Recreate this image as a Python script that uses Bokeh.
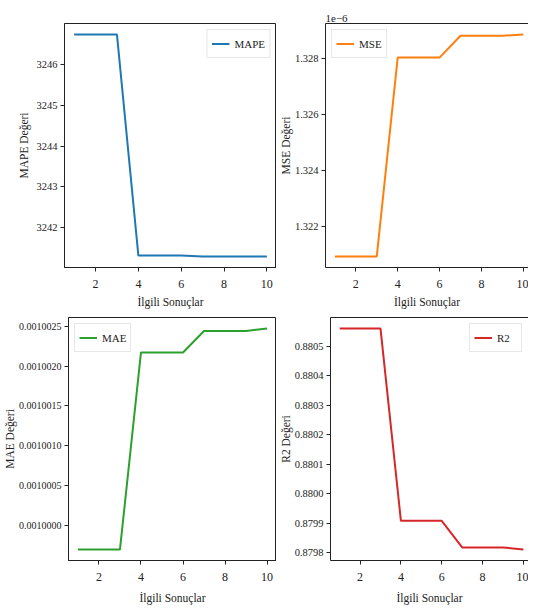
from bokeh.plotting import figure
from bokeh.models import (Range1d, FixedTicker, PrintfTickFormatter, CustomJSTickFormatter,
                          Legend, LegendItem, LinearAxis, Title)
from bokeh.layouts import row, column
from bokeh.embed import file_html
from bokeh.resources import INLINE

# ---- data ----
x_vals = [1, 2, 3, 4, 5, 6, 7, 8, 9, 10]
mape = [3246.73, 3246.73, 3246.73, 3241.32, 3241.32, 3241.32, 3241.30, 3241.30, 3241.30, 3241.30]
mse = [1.32093e-6, 1.32093e-6, 1.32093e-6, 1.32802e-6, 1.32802e-6, 1.32802e-6,
       1.32880e-6, 1.32880e-6, 1.32880e-6, 1.32884e-6]
mae = [0.00099970, 0.00099970, 0.00099970, 0.00100217, 0.00100217, 0.00100217,
       0.00100244, 0.00100244, 0.00100244, 0.00100247]
r2 = [0.880560, 0.880560, 0.880560, 0.879909, 0.879909, 0.879909,
      0.879819, 0.879819, 0.879819, 0.879812]

x_ticks = [2, 4, 6, 8, 10]
mape_ticks = [3242, 3243, 3244, 3245, 3246]
mse_ticks = [1.322e-6, 1.324e-6, 1.326e-6, 1.328e-6]
mae_ticks = [0.0010000, 0.0010005, 0.0010010, 0.0010015, 0.0010020, 0.0010025]
r2_ticks = [0.8798, 0.8799, 0.8800, 0.8801, 0.8802, 0.8803, 0.8804, 0.8805]

x_label = "İlgili Sonuçlar"
FONT = "Liberation Serif"
INK = "#222222"


def yrange(vals):
    lo, hi = min(vals), max(vals)
    m = (hi - lo) * 0.05
    return Range1d(lo - m, hi + m)


def make(name, vals, color, ticks, fmt, ylab, left_col, top_row, legend_loc, title=None):
    width = 276 if left_col else 252
    height = 313 if top_row else 297
    xr = Range1d(0.55, 10.45) if left_col else Range1d(0.55, 10.25)
    p = figure(width=width, height=height, x_range=xr, y_range=yrange(vals),
               output_backend="svg", toolbar_location=None, tools="",
               min_border_left=64 if left_col else 40, min_border_right=0,
               min_border_top=23 if top_row else 4,
               min_border_bottom=46 if top_row else 50)
    if title is not None:
        p.title = Title(text=title, align="left", text_font=FONT, text_font_size="11px",
                        text_font_style="normal", text_color=INK, standoff=3, offset=0)
    p.xgrid.visible = False
    p.ygrid.visible = False
    p.background_fill_color = "white"
    p.border_fill_color = "white"

    r = p.line(x_vals, vals, line_color=color, line_width=2)

    xa = p.below[0]
    ya = p.left[0]
    for ax in (xa, ya):
        ax.axis_line_color = INK
        ax.major_tick_line_color = INK
        ax.minor_tick_line_color = None
        ax.major_tick_in = 0
        ax.major_tick_out = 4
        ax.major_label_text_font = FONT
        ax.major_label_text_color = INK
        ax.axis_label_text_font = FONT
        ax.axis_label_text_font_size = "11.5px"
        ax.axis_label_text_font_style = "normal"
        ax.axis_label_text_color = INK

    xa.ticker = FixedTicker(ticks=x_ticks)
    xa.major_label_text_font_size = "12px"
    xa.major_label_standoff = 8
    xa.axis_label = x_label
    xa.axis_label_standoff = 5 if top_row else 8

    ya.ticker = FixedTicker(ticks=ticks)
    ya.formatter = fmt
    ya.major_label_text_font_size = "10px" if name == "MAE" else "10.5px"
    ya.major_label_standoff = 3
    ya.axis_label = ylab
    ya.axis_label_standoff = 0 if (not left_col or name == "MAE") else 4

    if left_col:
        p.outline_line_color = INK
        p.outline_line_width = 1
    else:
        p.outline_line_color = None
        top = LinearAxis(ticker=FixedTicker(ticks=[]), major_tick_out=0, major_tick_in=0,
                         minor_tick_out=0, minor_tick_in=0, minor_tick_line_color=None,
                         major_tick_line_color=None, major_label_standoff=0,
                         axis_line_color=INK, major_label_text_font_size="0px")
        p.add_layout(top, "above")

    legend = Legend(items=[LegendItem(label=name, renderers=[r])], location=legend_loc,
                    margin=6, padding=4, spacing=0, glyph_width=18, glyph_height=19,
                    label_height=19, label_standoff=5,
                    label_text_font=FONT, label_text_font_size="11px", label_text_color=INK,
                    border_line_color="#d0d0d0", border_line_width=1,
                    background_fill_alpha=0.85)
    p.add_layout(legend)
    return p


p1 = make("MAPE", mape, "#1f77b4", mape_ticks, PrintfTickFormatter(format="%d"),
          "MAPE Değeri", True, True, "top_right")
p2 = make("MSE", mse, "#ff7f0e", mse_ticks,
          CustomJSTickFormatter(code="return (tick*1e6).toFixed(3);"),
          "MSE Değeri", False, True, "top_left", title="1e\u22126")
p3 = make("MAE", mae, "#2ca02c", mae_ticks, PrintfTickFormatter(format="%.7f"),
          "MAE Değeri", True, False, "top_left")
p4 = make("R2", r2, "#d62728", r2_ticks, PrintfTickFormatter(format="%.4f"),
          "R2 Değeri", False, False, "top_right")

layout = column(row(p1, p2), row(p3, p4))
open("out.html", "w").write(file_html(layout, INLINE))
